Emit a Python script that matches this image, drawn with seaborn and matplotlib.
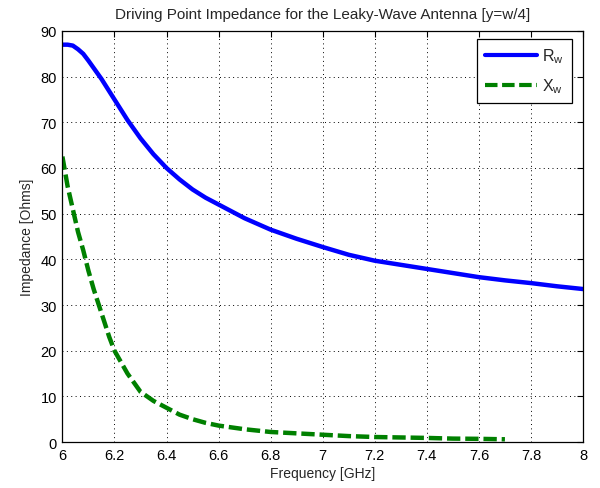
import matplotlib
matplotlib.use("Agg")
import matplotlib.pyplot as plt
import pandas as pd
import seaborn as sns

# values
freq_r = [6.00, 6.02, 6.04, 6.06, 6.08, 6.10, 6.15, 6.20, 6.25, 6.30, 6.35, 6.40,
          6.45, 6.50, 6.55, 6.60, 6.70, 6.80, 6.90, 7.00, 7.10, 7.20, 7.30, 7.40,
          7.50, 7.60, 7.70, 7.80, 7.90, 8.00]
r_w = [87.0, 87.0, 86.8, 86.0, 85.0, 83.5, 79.5, 75.0, 70.5, 66.5, 63.0, 60.0,
       57.5, 55.3, 53.5, 52.0, 49.0, 46.5, 44.5, 42.7, 41.0, 39.7, 38.8, 37.9,
       37.0, 36.1, 35.4, 34.8, 34.1, 33.5]

freq_x = [6.00, 6.02, 6.04, 6.06, 6.08, 6.10, 6.12, 6.14, 6.16, 6.18, 6.20, 6.25,
          6.30, 6.35, 6.40, 6.45, 6.50, 6.55, 6.60, 6.70, 6.80, 6.90, 7.00, 7.10,
          7.20, 7.30, 7.40, 7.50, 7.60, 7.70]
x_w = [62.5, 56.0, 51.0, 46.0, 42.0, 37.5, 33.5, 30.0, 26.5, 23.0, 20.0, 15.0,
       11.0, 9.0, 7.5, 6.0, 5.0, 4.2, 3.6, 2.8, 2.2, 1.9, 1.6, 1.3,
       1.1, 1.0, 0.9, 0.75, 0.7, 0.6]

x_ticks = [6, 6.2, 6.4, 6.6, 6.8, 7, 7.2, 7.4, 7.6, 7.8, 8]
x_tick_labels = ["6", "6.2", "6.4", "6.6", "6.8", "7", "7.2", "7.4", "7.6", "7.8", "8"]
y_ticks = list(range(0, 91, 10))

df_r = pd.DataFrame({"freq": freq_r, "val": r_w})
df_x = pd.DataFrame({"freq": freq_x, "val": x_w})

sns.set_style("white")
plt.rcParams["font.family"] = ["Liberation Sans", "DejaVu Sans"]
plt.rcParams["mathtext.fontset"] = "custom"
plt.rcParams["mathtext.rm"] = "Liberation Sans"
plt.rcParams["mathtext.it"] = "Liberation Sans"

fig = plt.figure(figsize=(6, 4.89), dpi=100)
ax = fig.add_axes([0.104, 0.094, 0.8677, 0.8406])

sns.lineplot(data=df_r, x="freq", y="val", ax=ax, color="#0000ff", linewidth=3.2,
             label=r"R$_\mathrm{w}$")
sns.lineplot(data=df_x, x="freq", y="val", ax=ax, color="#008000", linewidth=3.2,
             label=r"X$_\mathrm{w}$", dashes=False)
ax.lines[1].set_dashes((3, 1.1))

ax.set_xlim(6, 8)
ax.set_ylim(0, 90)
ax.set_xticks(x_ticks)
ax.set_xticklabels(x_tick_labels)
ax.set_yticks(y_ticks)
ax.tick_params(direction="in", length=4, width=0.8, labelsize=10.5, colors="black",
               top=True, right=True, pad=4)
for s in ax.spines.values():
    s.set_color("black")
    s.set_linewidth(0.9)
    s.set_visible(True)

ax.grid(True, linestyle=(0, (1, 3.5)), color="black", linewidth=0.7)

ax.set_title("Driving Point Impedance for the Leaky-Wave Antenna [y=w/4]",
             fontsize=11, pad=9.5)
ax.set_xlabel("Frequency [GHz]", fontsize=10, labelpad=3)
ax.set_ylabel("Impedance [Ohms]", fontsize=10, labelpad=5)

leg = ax.legend(loc="upper right", fontsize=11.5, frameon=True, fancybox=False,
                framealpha=1, edgecolor="black", borderpad=0.5, handlelength=3.3,
                handletextpad=0.3, labelspacing=0.7, borderaxespad=0,
                bbox_to_anchor=(0.9785, 0.981))
leg.get_frame().set_linewidth(0.9)
for h in leg.get_lines():
    h.set_linewidth(3)
leg.get_lines()[1].set_dashes((3, 1.1))

fig.savefig("out.png", dpi=100, facecolor="white")
